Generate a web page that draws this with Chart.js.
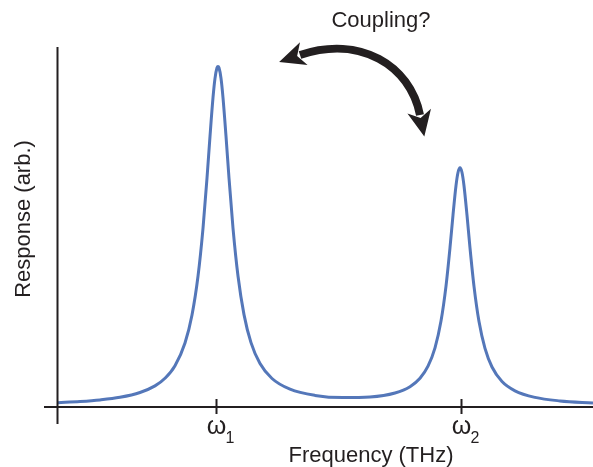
<!DOCTYPE html>
<html>
<head>
<meta charset="utf-8">
<script src="https://cdn.jsdelivr.net/npm/chart.js@4"></script>
<style>
  html, body { margin: 0; padding: 0; background: #fff; }
  canvas { display: block; }
</style>
</head>
<body>
<canvas id="myChart" width="593" height="467"></canvas>
<script>
// Frecuencia (unidades arbitrarias) y respuesta
const frecuencias = [0, 2.2, 4.2, 6.2, 8.2, 9.7, 10.7, 11.7, 12.7, 13.4, 14.0, 14.5, 14.9, 15.2, 15.5, 15.7, 15.9, 16.0, 16.1, 16.3, 16.5, 16.8, 17.1, 17.5, 18.0, 18.6, 19.3, 20.2, 21.4, 23.2, 25.7, 28.5, 31.2, 33.7, 35.2, 36.2, 37.0, 37.7, 38.3, 38.8, 39.2, 39.5, 39.8, 40.0, 40.2, 40.4, 40.6, 40.9, 41.2, 41.6, 42.1, 42.7, 43.4, 44.4, 45.7, 47.7, 50.2, 53.5];
const respuesta = [4.3, 5.5, 7.1, 9.7, 14.5, 21.1, 28.7, 41.3, 64.0, 92.0, 130.7, 178.7, 228.9, 270.7, 309.3, 328.6, 339.2, 340.6, 339.2, 328.7, 309.4, 270.8, 229.0, 178.9, 131.0, 92.4, 64.4, 43.5, 28.5, 17.8, 11.6, 9.4, 10.0, 14.0, 20.3, 28.7, 40.8, 59.1, 85.9, 120.9, 159.3, 191.9, 221.4, 234.5, 239.3, 234.5, 221.3, 191.8, 159.1, 120.6, 85.4, 58.6, 40.0, 25.5, 16.2, 9.6, 6.1, 4.0];

// Marcas del eje x (ω1, ω2)
const marcas = [15.9, 40.35];
const subindices = ['1', '2'];

const tinta = '#231f20';
const fuente = '"Liberation Sans", Arial, Helvetica, sans-serif';

// Ejes, etiquetas y flecha dibujados sobre las escalas de Chart.js
const decoracion = {
    id: 'decoracion',
    afterDraw(chart) {
        const ctx = chart.ctx;
        const area = chart.chartArea;
        const x = chart.scales.x;
        const y0 = chart.scales.y.getPixelForValue(0);
        ctx.save();
        ctx.strokeStyle = tinta;
        ctx.fillStyle = tinta;
        ctx.lineWidth = 2;

        // eje y
        ctx.beginPath();
        ctx.moveTo(area.left - 0.5, area.top);
        ctx.lineTo(area.left - 0.5, y0 + 17);
        ctx.stroke();
        // eje x
        ctx.beginPath();
        ctx.moveTo(area.left - 14, y0);
        ctx.lineTo(area.right, y0);
        ctx.stroke();

        // marcas y etiquetas ω
        marcas.forEach((m, i) => {
            const px = Math.round(x.getPixelForValue(m)) - 0.5;
            ctx.beginPath();
            ctx.moveTo(px, y0 - 8);
            ctx.lineTo(px, y0 + 7);
            ctx.stroke();
            ctx.textAlign = 'center';
            ctx.textBaseline = 'alphabetic';
            ctx.font = '25px ' + fuente;
            ctx.fillText('ω', px, y0 + 27);
            ctx.font = '16px ' + fuente;
            ctx.textAlign = 'left';
            ctx.fillText(subindices[i], px + 9, y0 + 36);
        });

        // títulos de ejes
        ctx.font = '22px ' + fuente;
        ctx.textAlign = 'center';
        ctx.fillText('Frequency (THz)', 371, 462);
        ctx.save();
        ctx.translate(30, 219);
        ctx.rotate(-Math.PI / 2);
        ctx.fillText('Response (arb.)', 0, 0);
        ctx.restore();

        // texto y flecha "Coupling?"
        ctx.fillText('Coupling?', 381, 27);
        ctx.lineWidth = 8;
        ctx.lineCap = 'butt';
        ctx.beginPath();
        ctx.moveTo(300, 55);
        ctx.bezierCurveTo(360, 35, 410, 65, 420, 115);
        ctx.stroke();
        punta(ctx, 300, 55, -60, 20);
        punta(ctx, 420, 115, 10, 50);
        ctx.restore();
    }
};

function punta(ctx, bx, by, dx, dy) {
    const l = Math.hypot(dx, dy);
    const ux = dx / l, uy = dy / l;
    const nx = -uy, ny = ux;
    const tipx = bx + ux * 22, tipy = by + uy * 22;
    ctx.beginPath();
    ctx.moveTo(tipx, tipy);
    ctx.lineTo(bx - ux * 4 + nx * 12, by - uy * 4 + ny * 12);
    ctx.lineTo(bx + ux * 3, by + uy * 3);
    ctx.lineTo(bx - ux * 4 - nx * 12, by - uy * 4 - ny * 12);
    ctx.closePath();
    ctx.fill();
}

const datos = {
    datasets: [
        {
            data: frecuencias.map((f, i) => ({ x: f, y: respuesta[i] })),
            borderColor: '#5477b9',
            borderWidth: 3,
            pointRadius: 0,
            cubicInterpolationMode: 'monotone',
            fill: false,
        },
    ],
};

const opciones = {
    responsive: false,
    animation: false,
    layout: { padding: { left: 58, top: 47, right: 0, bottom: 60 } },
    plugins: { legend: { display: false }, tooltip: { enabled: false } },
    scales: {
        x: { type: 'linear', min: 0, max: 53.5, display: false },
        y: { min: 0, max: 360, display: false },
    },
};

const ctx = document.getElementById('myChart').getContext('2d');
const myChart = new Chart(ctx, {
    type: 'line',
    data: datos,
    options: opciones,
    plugins: [decoracion],
});
</script>
</body>
</html>
